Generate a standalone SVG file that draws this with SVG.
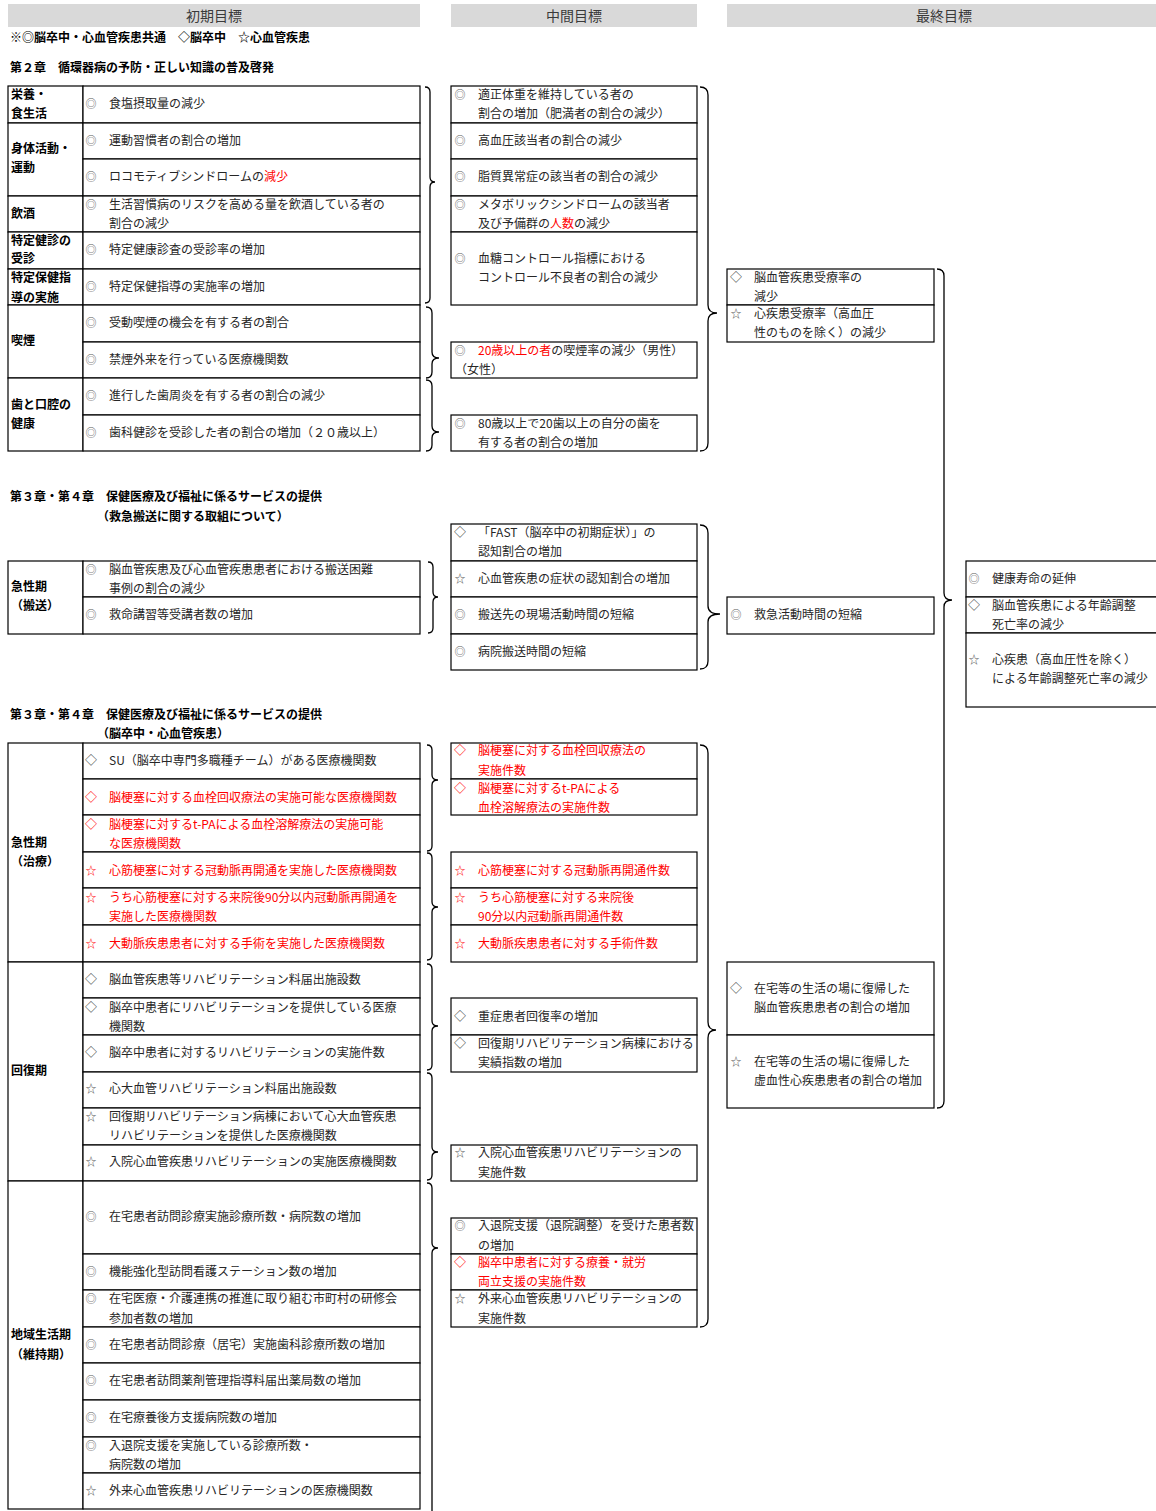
<svg xmlns="http://www.w3.org/2000/svg" width="1156" height="1511" viewBox="0 0 1156 1511">
<style>
text { font-family: "Noto Sans CJK JP", "Noto Sans", sans-serif; font-size: 12px; fill: #262626; transform: translate(0px, 1px); }
.b { font-weight: bold; fill: #000; }
.r { fill: #ff0000; }
.c { fill: #fff; stroke: #000; stroke-width: 1.2; }
.s { text-anchor: middle; }
.s0 { font-size: 11px; fill: #5a5a5a; }
.s1 { font-size: 12px; fill: #444; }
.s2 { font-size: 11px; fill: #555; }
.sr { fill: #ff0000; }
.br { fill: none; stroke: #000; stroke-width: 1.3; }
.hb { fill: #d9d9d9; }
.ht { font-size: 14px; fill: #3a3a3a; text-anchor: middle; }
</style>
<rect x="0" y="0" width="1156" height="1511" fill="#fff"/>

<g id="headers">
  <rect class="hb" x="8" y="4" width="412" height="23"/>
  <text class="ht" x="214" y="20">初期目標</text>
  <rect class="hb" x="451" y="4" width="246" height="23"/>
  <text class="ht" x="574" y="20">中間目標</text>
  <rect class="hb" x="727" y="4" width="429" height="23"/>
  <text class="ht" x="944" y="20">最終目標</text>
</g>

<g id="titles">
  <text class="b" x="10" y="41">※◎脳卒中・心血管疾患共通　◇脳卒中　☆心血管疾患</text>
  <text class="b" x="10" y="71">第２章　循環器病の予防・正しい知識の普及啓発</text>
  <text class="b" x="10" y="500">第３章・第４章　保健医療及び福祉に係るサービスの提供</text>
  <text class="b" x="97" y="520">（救急搬送に関する取組について）</text>
  <text class="b" x="10" y="718">第３章・第４章　保健医療及び福祉に係るサービスの提供</text>
  <text class="b" x="97" y="737">（脳卒中・心血管疾患）</text>
</g>

<!-- Section 1 left -->
<g id="s1-labels">
  <rect class="c" x="8" y="86" width="75" height="37"/>
  <text class="b" x="11" y="98">栄養・</text><text class="b" x="11" y="117">食生活</text>
  <rect class="c" x="8" y="123" width="75" height="73"/>
  <text class="b" x="11" y="152">身体活動・</text><text class="b" x="11" y="171">運動</text>
  <rect class="c" x="8" y="196" width="75" height="36"/>
  <text class="b" x="11" y="217">飲酒</text>
  <rect class="c" x="8" y="232" width="75" height="37"/>
  <text class="b" x="11" y="244">特定健診の</text><text class="b" x="11" y="262">受診</text>
  <rect class="c" x="8" y="269" width="75" height="36"/>
  <text class="b" x="11" y="281">特定保健指</text><text class="b" x="11" y="301">導の実施</text>
  <rect class="c" x="8" y="305" width="75" height="73"/>
  <text class="b" x="11" y="344">喫煙</text>
  <rect class="c" x="8" y="378" width="75" height="73"/>
  <text class="b" x="11" y="408">歯と口腔の</text><text class="b" x="11" y="427">健康</text>
</g>
<g id="s1-l1"><rect class="c" x="83" y="86" width="337" height="37"/><text class="s s0" x="91" y="107">◎</text><text x="109" y="107">食塩摂取量の減少</text></g>
<g id="s1-l2"><rect class="c" x="83" y="123" width="337" height="36"/><text class="s s0" x="91" y="144">◎</text><text x="109" y="144">運動習慣者の割合の増加</text></g>
<g id="s1-l3"><rect class="c" x="83" y="159" width="337" height="37"/><text class="s s0" x="91" y="180">◎</text><text x="109" y="180">ロコモティブシンドロームの<tspan class="r">減少</tspan></text></g>
<g id="s1-l4"><rect class="c" x="83" y="196" width="337" height="36"/><text class="s s0" x="91" y="208">◎</text><text x="109" y="208">生活習慣病のリスクを高める量を飲酒している者の</text><text x="109" y="227">割合の減少</text></g>
<g id="s1-l5"><rect class="c" x="83" y="232" width="337" height="37"/><text class="s s0" x="91" y="253">◎</text><text x="109" y="253">特定健康診査の受診率の増加</text></g>
<g id="s1-l6"><rect class="c" x="83" y="269" width="337" height="36"/><text class="s s0" x="91" y="290">◎</text><text x="109" y="290">特定保健指導の実施率の増加</text></g>
<g id="s1-l7"><rect class="c" x="83" y="305" width="337" height="37"/><text class="s s0" x="91" y="326">◎</text><text x="109" y="326">受動喫煙の機会を有する者の割合</text></g>
<g id="s1-l8"><rect class="c" x="83" y="342" width="337" height="36"/><text class="s s0" x="91" y="363">◎</text><text x="109" y="363">禁煙外来を行っている医療機関数</text></g>
<g id="s1-l9"><rect class="c" x="83" y="378" width="337" height="37"/><text class="s s0" x="91" y="399">◎</text><text x="109" y="399">進行した歯周炎を有する者の割合の減少</text></g>
<g id="s1-l10"><rect class="c" x="83" y="415" width="337" height="36"/><text class="s s0" x="91" y="436">◎</text><text x="109" y="436">歯科健診を受診した者の割合の増加（２０歳以上）</text></g>

<!-- Section 1 middle -->
<g id="s1-m1"><rect class="c" x="451" y="86" width="246" height="37"/><text class="s s0" x="460" y="98">◎</text><text x="478" y="98">適正体重を維持している者の</text><text x="478" y="117">割合の増加（肥満者の割合の減少）</text></g>
<g id="s1-m2"><rect class="c" x="451" y="123" width="246" height="36"/><text class="s s0" x="460" y="144">◎</text><text x="478" y="144">高血圧該当者の割合の減少</text></g>
<g id="s1-m3"><rect class="c" x="451" y="159" width="246" height="37"/><text class="s s0" x="460" y="180">◎</text><text x="478" y="180">脂質異常症の該当者の割合の減少</text></g>
<g id="s1-m4"><rect class="c" x="451" y="196" width="246" height="36"/><text class="s s0" x="460" y="208">◎</text><text x="478" y="208">メタボリックシンドロームの該当者</text><text x="478" y="227">及び予備群の<tspan class="r">人数</tspan>の減少</text></g>
<g id="s1-m5"><rect class="c" x="451" y="232" width="246" height="73"/><text class="s s0" x="460" y="262">◎</text><text x="478" y="262">血糖コントロール指標における</text><text x="478" y="281">コントロール不良者の割合の減少</text></g>
<g id="s1-m6"><rect class="c" x="451" y="342" width="246" height="36"/><text class="s s0" x="460" y="354">◎</text><text x="478" y="354"><tspan class="r">20歳以上の者</tspan>の喫煙率の減少（男性）</text><text x="455" y="373">（女性）</text></g>
<g id="s1-m7"><rect class="c" x="451" y="415" width="246" height="36"/><text class="s s0" x="460" y="427">◎</text><text x="478" y="427">80歳以上で20歯以上の自分の歯を</text><text x="478" y="446">有する者の割合の増加</text></g>

<!-- Section 1 final -->
<g id="s1-f1"><rect class="c" x="727" y="269" width="207" height="36"/><text class="s s1" x="736" y="281">◇</text><text x="754" y="281">脳血管疾患受療率の</text><text x="754" y="300">減少</text></g>
<g id="s1-f2"><rect class="c" x="727" y="305" width="207" height="37"/><text class="s s2" x="736" y="317">☆</text><text x="754" y="317">心疾患受療率（高血圧</text><text x="754" y="336">性のものを除く）の減少</text></g>

<!-- Section 2 -->
<g id="s2-label"><rect class="c" x="8" y="561" width="75" height="73"/><text class="b" x="11" y="590">急性期</text><text class="b" x="11" y="609">（搬送）</text></g>
<g id="s2-l1"><rect class="c" x="83" y="561" width="337" height="36"/><text class="s s0" x="91" y="573">◎</text><text x="109" y="573">脳血管疾患及び心血管疾患患者における搬送困難</text><text x="109" y="592">事例の割合の減少</text></g>
<g id="s2-l2"><rect class="c" x="83" y="597" width="337" height="37"/><text class="s s0" x="91" y="618">◎</text><text x="109" y="618">救命講習等受講者数の増加</text></g>

<g id="s2-m1"><rect class="c" x="451" y="524" width="246" height="37"/><text class="s s1" x="460" y="536">◇</text><text x="478" y="536">「FAST（脳卒中の初期症状）」の</text><text x="478" y="555">認知割合の増加</text></g>
<g id="s2-m2"><rect class="c" x="451" y="561" width="246" height="36"/><text class="s s2" x="460" y="582">☆</text><text x="478" y="582">心血管疾患の症状の認知割合の増加</text></g>
<g id="s2-m3"><rect class="c" x="451" y="597" width="246" height="37"/><text class="s s0" x="460" y="618">◎</text><text x="478" y="618">搬送先の現場活動時間の短縮</text></g>
<g id="s2-m4"><rect class="c" x="451" y="634" width="246" height="36"/><text class="s s0" x="460" y="655">◎</text><text x="478" y="655">病院搬送時間の短縮</text></g>

<g id="s2-f1"><rect class="c" x="727" y="597" width="207" height="37"/><text class="s s0" x="736" y="618">◎</text><text x="754" y="618">救急活動時間の短縮</text></g>

<g id="final-1"><rect class="c" x="966" y="561" width="200" height="36"/><text class="s s0" x="974" y="582">◎</text><text x="992" y="582">健康寿命の延伸</text></g>
<g id="final-2"><rect class="c" x="966" y="597" width="200" height="36"/><text class="s s1" x="974" y="609">◇</text><text x="992" y="609">脳血管疾患による年齢調整</text><text x="992" y="628">死亡率の減少</text></g>
<g id="final-3"><rect class="c" x="966" y="633" width="200" height="74"/><text class="s s2" x="974" y="663">☆</text><text x="992" y="663">心疾患（高血圧性を除く）</text><text x="992" y="682">による年齢調整死亡率の減少</text></g>

<!-- Section 3 labels -->
<g id="s3-label1"><rect class="c" x="8" y="743" width="75" height="219"/><text class="b" x="11" y="846">急性期</text><text class="b" x="11" y="865">（治療）</text></g>
<g id="s3-label2"><rect class="c" x="8" y="962" width="75" height="219"/><text class="b" x="11" y="1074">回復期</text></g>
<g id="s3-label3"><rect class="c" x="8" y="1181" width="75" height="328"/><text class="b" x="11" y="1338">地域生活期</text><text class="b" x="11" y="1358">（維持期）</text></g>

<g id="s3-l1"><rect class="c" x="83" y="743" width="337" height="36"/><text class="s s1" x="91" y="764">◇</text><text x="109" y="764">SU（脳卒中専門多職種チーム）がある医療機関数</text></g>
<g id="s3-l2"><rect class="c" x="83" y="779" width="337" height="36"/><text class="s s1 sr" x="91" y="801">◇</text><text class="r" x="109" y="801">脳梗塞に対する血栓回収療法の実施可能な医療機関数</text></g>
<g id="s3-l3"><rect class="c" x="83" y="815" width="337" height="37"/><text class="s s1 sr" x="91" y="828">◇</text><text class="r" x="109" y="828">脳梗塞に対するt-PAによる血栓溶解療法の実施可能</text><text class="r" x="109" y="847">な医療機関数</text></g>
<g id="s3-l4"><rect class="c" x="83" y="852" width="337" height="36"/><text class="s s2 sr" x="91" y="874">☆</text><text class="r" x="109" y="874">心筋梗塞に対する冠動脈再開通を実施した医療機関数</text></g>
<g id="s3-l5"><rect class="c" x="83" y="888" width="337" height="37"/><text class="s s2 sr" x="91" y="901">☆</text><text class="r" x="109" y="901">うち心筋梗塞に対する来院後90分以内冠動脈再開通を</text><text class="r" x="109" y="920">実施した医療機関数</text></g>
<g id="s3-l6"><rect class="c" x="83" y="925" width="337" height="37"/><text class="s s2 sr" x="91" y="947">☆</text><text class="r" x="109" y="947">大動脈疾患患者に対する手術を実施した医療機関数</text></g>
<g id="s3-l7"><rect class="c" x="83" y="962" width="337" height="36"/><text class="s s1" x="91" y="983">◇</text><text x="109" y="983">脳血管疾患等リハビリテーション料届出施設数</text></g>
<g id="s3-l8"><rect class="c" x="83" y="998" width="337" height="37"/><text class="s s1" x="91" y="1011">◇</text><text x="109" y="1011">脳卒中患者にリハビリテーションを提供している医療</text><text x="109" y="1030">機関数</text></g>
<g id="s3-l9"><rect class="c" x="83" y="1035" width="337" height="37"/><text class="s s1" x="91" y="1056">◇</text><text x="109" y="1056">脳卒中患者に対するリハビリテーションの実施件数</text></g>
<g id="s3-l10"><rect class="c" x="83" y="1072" width="337" height="36"/><text class="s s2" x="91" y="1092">☆</text><text x="109" y="1092">心大血管リハビリテーション料届出施設数</text></g>
<g id="s3-l11"><rect class="c" x="83" y="1108" width="337" height="37"/><text class="s s2" x="91" y="1120">☆</text><text x="109" y="1120">回復期リハビリテーション病棟において心大血管疾患</text><text x="109" y="1139">リハビリテーションを提供した医療機関数</text></g>
<g id="s3-l12"><rect class="c" x="83" y="1145" width="337" height="36"/><text class="s s2" x="91" y="1165">☆</text><text x="109" y="1165">入院心血管疾患リハビリテーションの実施医療機関数</text></g>
<g id="s3-l13"><rect class="c" x="83" y="1181" width="337" height="73"/><text class="s s0" x="91" y="1220">◎</text><text x="109" y="1220">在宅患者訪問診療実施診療所数・病院数の増加</text></g>
<g id="s3-l14"><rect class="c" x="83" y="1254" width="337" height="36"/><text class="s s0" x="91" y="1275">◎</text><text x="109" y="1275">機能強化型訪問看護ステーション数の増加</text></g>
<g id="s3-l15"><rect class="c" x="83" y="1290" width="337" height="37"/><text class="s s0" x="91" y="1302">◎</text><text x="109" y="1302">在宅医療・介護連携の推進に取り組む市町村の研修会</text><text x="109" y="1322">参加者数の増加</text></g>
<g id="s3-l16"><rect class="c" x="83" y="1327" width="337" height="36"/><text class="s s0" x="91" y="1348">◎</text><text x="109" y="1348">在宅患者訪問診療（居宅）実施歯科診療所数の増加</text></g>
<g id="s3-l17"><rect class="c" x="83" y="1363" width="337" height="37"/><text class="s s0" x="91" y="1384">◎</text><text x="109" y="1384">在宅患者訪問薬剤管理指導料届出薬局数の増加</text></g>
<g id="s3-l18"><rect class="c" x="83" y="1400" width="337" height="37"/><text class="s s0" x="91" y="1421">◎</text><text x="109" y="1421">在宅療養後方支援病院数の増加</text></g>
<g id="s3-l19"><rect class="c" x="83" y="1437" width="337" height="36"/><text class="s s0" x="91" y="1449">◎</text><text x="109" y="1449">入退院支援を実施している診療所数・</text><text x="109" y="1468">病院数の増加</text></g>
<g id="s3-l20"><rect class="c" x="83" y="1473" width="337" height="36"/><text class="s s2" x="91" y="1494">☆</text><text x="109" y="1494">外来心血管疾患リハビリテーションの医療機関数</text></g>

<!-- Section 3 middle -->
<g id="s3-m1"><rect class="c" x="451" y="743" width="246" height="36"/><text class="s s1 sr" x="460" y="754">◇</text><text class="r" x="478" y="754">脳梗塞に対する血栓回収療法の</text><text class="r" x="478" y="774">実施件数</text></g>
<g id="s3-m2"><rect class="c" x="451" y="779" width="246" height="36"/><text class="s s1 sr" x="460" y="792">◇</text><text class="r" x="478" y="792">脳梗塞に対するt-PAによる</text><text class="r" x="478" y="811">血栓溶解療法の実施件数</text></g>
<g id="s3-m3"><rect class="c" x="451" y="852" width="246" height="36"/><text class="s s2 sr" x="460" y="874">☆</text><text class="r" x="478" y="874">心筋梗塞に対する冠動脈再開通件数</text></g>
<g id="s3-m4"><rect class="c" x="451" y="888" width="246" height="37"/><text class="s s2 sr" x="460" y="901">☆</text><text class="r" x="478" y="901">うち心筋梗塞に対する来院後</text><text class="r" x="478" y="920">90分以内冠動脈再開通件数</text></g>
<g id="s3-m5"><rect class="c" x="451" y="925" width="246" height="37"/><text class="s s2 sr" x="460" y="947">☆</text><text class="r" x="478" y="947">大動脈疾患患者に対する手術件数</text></g>
<g id="s3-m6"><rect class="c" x="451" y="998" width="246" height="37"/><text class="s s1" x="460" y="1020">◇</text><text x="478" y="1020">重症患者回復率の増加</text></g>
<g id="s3-m7"><rect class="c" x="451" y="1035" width="246" height="37"/><text class="s s1" x="460" y="1047">◇</text><text x="478" y="1047">回復期リハビリテーション病棟における</text><text x="478" y="1066">実績指数の増加</text></g>
<g id="s3-m8"><rect class="c" x="451" y="1145" width="246" height="36"/><text class="s s2" x="460" y="1156">☆</text><text x="478" y="1156">入院心血管疾患リハビリテーションの</text><text x="478" y="1176">実施件数</text></g>
<g id="s3-m9"><rect class="c" x="451" y="1218" width="246" height="36"/><text class="s s0" x="460" y="1229">◎</text><text x="478" y="1229">入退院支援（退院調整）を受けた患者数</text><text x="478" y="1249">の増加</text></g>
<g id="s3-m10"><rect class="c" x="451" y="1254" width="246" height="36"/><text class="s s1 sr" x="460" y="1266">◇</text><text class="r" x="478" y="1266">脳卒中患者に対する療養・就労</text><text class="r" x="478" y="1285">両立支援の実施件数</text></g>
<g id="s3-m11"><rect class="c" x="451" y="1290" width="246" height="37"/><text class="s s2" x="460" y="1302">☆</text><text x="478" y="1302">外来心血管疾患リハビリテーションの</text><text x="478" y="1322">実施件数</text></g>

<!-- Section 3 final -->
<g id="s3-f1"><rect class="c" x="727" y="962" width="207" height="73"/><text class="s s1" x="736" y="992">◇</text><text x="754" y="992">在宅等の生活の場に復帰した</text><text x="754" y="1011">脳血管疾患患者の割合の増加</text></g>
<g id="s3-f2"><rect class="c" x="727" y="1035" width="207" height="73"/><text class="s s2" x="736" y="1065">☆</text><text x="754" y="1065">在宅等の生活の場に復帰した</text><text x="754" y="1084">虚血性心疾患患者の割合の増加</text></g>

<g id="connectors">
  <path class="br" d="M425,87 Q430,87 430,92 L430,177 Q430,182 435,182 Q430,182 430,187 L430,298 Q430,303 425,303"/>
  <path class="br" d="M426,307 Q432,307 432,313 L432,352 Q432,358 439,358 Q432,358 432,364 L432,372 Q432,378 426,378"/>
  <path class="br" d="M426,380 Q432,380 432,386 L432,426 Q432,432 439,432 Q432,432 432,438 L432,445 Q432,451 426,451"/>
  <path class="br" d="M700,87 Q708,87 708,95 L708,305 Q708,313 717,313 Q708,313 708,321 L708,443 Q708,451 700,451"/>
  <path class="br" d="M937,269 Q944,269 944,276 L944,593 Q944,600 952,600 Q944,600 944,607 L944,1101 Q944,1108 937,1108"/>
  <path class="br" d="M428,562 Q433,562 433,567 L433,592 Q433,597 438,597 Q433,597 433,602 L433,628 Q433,633 428,633"/>
  <path class="br" d="M700,525 Q708,525 708,533 L708,606 Q708,614 720,614 Q708,614 708,622 L708,661 Q708,669 700,669"/>
  <path class="br" d="M427,745 Q432,745 432,750 L432,775 Q432,780 438,780 Q432,780 432,785 L432,846 Q432,851 427,851"/>
  <path class="br" d="M427,853 Q432,853 432,858 L432,902 Q432,907 438,907 Q432,907 432,912 L432,955 Q432,960 427,960"/>
  <path class="br" d="M427,964 Q432,964 432,969 L432,1021 Q432,1026 438,1026 Q432,1026 432,1031 L432,1065 Q432,1070 427,1070"/>
  <path class="br" d="M427,1073 Q432,1073 432,1078 L432,1147 Q432,1152 438,1152 Q432,1152 432,1157 L432,1175 Q432,1180 427,1180"/>
  <path class="br" d="M427,1183 Q432,1183 432,1188 L432,1243 Q432,1248 438,1248 Q432,1248 432,1253 L432,1515"/>
  <path class="br" d="M700,745 Q708,745 708,753 L708,1022 Q708,1030 716,1030 Q708,1030 708,1038 L708,1319 Q708,1327 700,1327"/>
</g>
</svg>
